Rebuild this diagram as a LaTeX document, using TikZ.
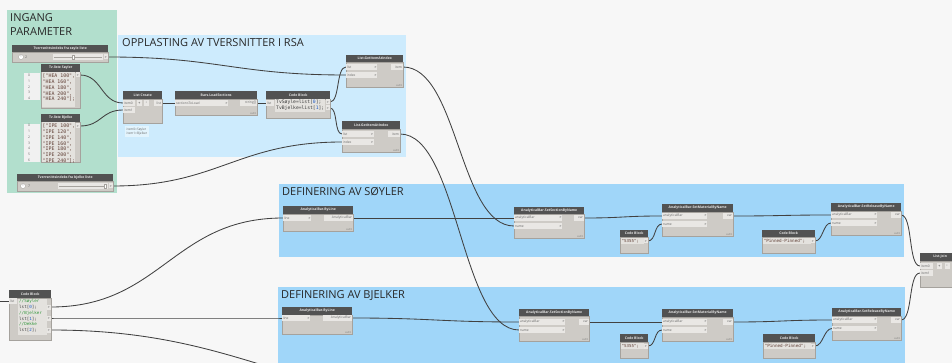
\documentclass[tikz,border=0pt]{standalone}
\usepackage{fontspec}
\setmainfont{Open Sans}
\newfontfamily\cf{DejaVu Sans Mono}
\definecolor{bgc}{RGB}{247,247,247}
\definecolor{grn}{RGB}{178,223,205}
\definecolor{rsa}{RGB}{205,235,253}
\definecolor{defc}{RGB}{160,214,249}
\definecolor{hdrc}{RGB}{82,82,82}
\definecolor{hdrt}{RGB}{228,228,228}
\definecolor{bodyc}{RGB}{206,203,198}
\definecolor{portc}{RGB}{233,231,228}
\definecolor{edgec}{RGB}{165,162,157}
\definecolor{labc}{RGB}{105,105,105}
\definecolor{wirec}{RGB}{65,65,65}
\definecolor{titc}{RGB}{40,40,40}
\definecolor{codebgc}{RGB}{228,226,222}
\definecolor{codec}{RGB}{60,60,60}
\definecolor{strc}{RGB}{95,62,52}
\definecolor{numc}{RGB}{30,90,200}
\definecolor{comc}{RGB}{50,150,60}
\definecolor{idxc}{RGB}{241,241,241}
\pgfdeclarelayer{grp}
\pgfdeclarelayer{wires}
\pgfsetlayers{grp,wires,main}
\begin{document}
\begin{tikzpicture}[x=1pt,y=-1pt,
  hdr/.style={fill=hdrc, text=hdrt, font=\fontsize{3.4}{4}\selectfont\bfseries, inner sep=0pt, anchor=north west, minimum height=7.5pt, minimum width=#1},
  nbody/.style={fill=bodyc, draw=edgec, line width=0.3pt, inner sep=0pt, anchor=north west},
  inport/.style={fill=portc, inner xsep=0.8pt, inner ysep=0pt, minimum height=5.6pt, anchor=west, font=\fontsize{3.3}{4}\selectfont, text=labc, text width=#1, align=left},
  outport/.style={fill=portc, inner xsep=0.8pt, inner ysep=0pt, minimum height=5.6pt, anchor=east, font=\fontsize{3.3}{4}\selectfont, text=labc, text width=#1, align=right},
  cport/.style={fill=portc, inner sep=0pt, minimum width=4pt, minimum height=5pt, anchor=east, font=\fontsize{3.3}{4}\selectfont\bfseries, text=labc},
  pbtn/.style={fill=portc, inner sep=0pt, minimum width=5pt, minimum height=5.6pt, font=\fontsize{3.6}{4}\selectfont\bfseries, text=labc},
  autot/.style={font=\fontsize{2.2}{3}\selectfont, text=labc, anchor=south east, inner sep=0.8pt},
  codebg/.style={fill=codebgc, inner sep=0pt, anchor=north west},
  codet/.style={text=codec, anchor=north west, inner sep=0pt, align=left},
  gtitle/.style={font=\fontsize{11}{14.5}\selectfont, text=titc, anchor=north west, inner sep=0pt, align=left},
  wire/.style={draw=wirec, line width=0.85pt},
  btn/.style={circle, fill=white, draw=edgec, line width=0.3pt, minimum size=5pt, inner sep=0pt, font=\fontsize{4}{4}\selectfont\bfseries, text=labc},
  valt/.style={anchor=west, inner sep=0pt, font=\fontsize{3.6}{4}\selectfont, text=labc},
  track/.style={fill=portc, anchor=west, inner sep=0pt, minimum height=5.5pt},
  thumb/.style={fill=white, draw=edgec, line width=0.3pt, minimum width=2.4pt, minimum height=4.6pt, inner sep=0pt},
  tline/.style={draw=edgec, line width=0.5pt},
  idxbox/.style={fill=idxc, anchor=north west, inner sep=0pt, minimum width=16pt},
  idxt/.style={anchor=north, inner sep=0pt, align=center, font=\fontsize{3.4}{5.7}\selectfont, text=labc},
  notebox/.style={fill=white, fill opacity=0.45, text opacity=1, anchor=north west, inner xsep=1.5pt, inner ysep=1.5pt, align=left, font=\fontsize{3.2}{4.5}\selectfont, text=labc}
]
\useasboundingbox (0,0) rectangle (952,363);
\clip (0,0) rectangle (952,363);
\begin{pgfonlayer}{grp}
\fill[bgc] (0,0) rectangle (952,363);
\fill[grn] (7,10) rectangle (117,193);
\fill[rsa] (118,35) rectangle (406,157);
\fill[defc] (279,184) rectangle (904,257);
\fill[defc] (278,287) rectangle (905,370);
\end{pgfonlayer}

% group titles
\node[gtitle] (t1) at (10,13) {INGANG\\PARAMETER};
\node[gtitle] (t2) at (122,38.5) {OPPLASTING AV TVERSNITTER I RSA};
\node[gtitle] (t3) at (282,187) {DEFINERING AV SØYLER};
\node[gtitle] (t4) at (281,290) {DEFINERING AV BJELKER};

% ---------- INGANG PARAMETER ----------
\node[hdr=96pt] (s1) at (12,44.5) {Tverrsnittsindeks fra søyle liste};
\node[nbody, minimum width=96pt, minimum height=10pt] (s1b) at (s1.south west) {};
\node[btn] (s1m) at (21,57) {-};
\node[valt] (s1v) at (25,57) {2};
\node[track, minimum width=50pt] (s1t) at (53,57) {};
\draw[tline] ([xshift=1pt]s1t.west) -- ([xshift=-1pt]s1t.east);
\node[thumb] (s1h) at (73,57) {};
\node[cport] (s1o) at (108,57) {>};

\node[hdr=39pt] (tvs) at (41,64) {Tv.liste Søyler};
\node[nbody, minimum width=39pt, minimum height=36.5pt] (tvsb) at (tvs.south west) {};
\node[codebg, minimum width=33pt, minimum height=35pt] (tvsa) at (41.6,72.2) {};
\node[idxbox, minimum height=27pt] (tvsi) at (24,73) {};
\node[idxt] (tvsn) at (29,74.2) {0\\1\\2\\3\\4};
\node[codet, text=strc, font=\cf\fontsize{4.9}{5.75}\selectfont] (tvst) at (42.5,74) {["HEA 100",\\"HEA 160",\\"HEA 180",\\"HEA 200",\\"HEA 240"];};
\node[cport] (tvso) at (80,75) {>};

\node[hdr=39pt] (tvb) at (41,114) {Tv.liste Bjelke};
\node[nbody, minimum width=39pt, minimum height=40.5pt] (tvbb) at (tvb.south west) {};
\node[codebg, minimum width=33pt, minimum height=39.5pt] (tvba) at (41.6,122) {};
\node[idxbox, minimum height=38.5pt] (tvbi) at (24,123.5) {};
\node[idxt] (tvbn) at (29,124.3) {0\\1\\2\\3\\4\\5\\6};
\node[codet, text=strc, font=\cf\fontsize{4.9}{5.75}\selectfont] (tvbt) at (42.5,124) {["IPE 100",\\"IPE 120",\\"IPE 140",\\"IPE 160",\\"IPE 180",\\"IPE 200",\\"IPE 240"];};
\node[cport] (tvbo) at (80,126) {>};

\node[hdr=96pt] (s2) at (17,173.5) {Tverrsnittsindeks fra bjelke liste};
\node[nbody, minimum width=96pt, minimum height=9.5pt] (s2b) at (s2.south west) {};
\node[btn] (s2m) at (23,186) {-};
\node[valt] (s2v) at (28,186) {7};
\node[track, minimum width=50pt] (s2t) at (58,186) {};
\draw[tline] ([xshift=1pt]s2t.west) -- ([xshift=-1pt]s2t.east);
\node[thumb] (s2h) at (105,186) {};
\node[cport] (s2o) at (113,186) {>};

% ---------- OPPLASTING ----------
\node[hdr=39pt] (lc) at (123,91) {List Create};
\node[nbody, minimum width=39pt, minimum height=24.5pt] (lcb) at (lc.south west) {};
\node[inport=10.4pt] (lci0) at (123,103) {item0};
\node[inport=10.4pt] (lci1) at (123,110) {item1};
\node[pbtn] (lcp) at (139.5,103) {+};
\node[pbtn] (lcm) at (146.5,103) {-};
\node[outport=6.4pt] (lco) at (162,103) {list};
\node[notebox] (lcn) at (125,126) {item0=Søyler\\item1=Bjelker};

\node[hdr=82pt] (bl) at (175,91) {Bars.LoadSections};
\node[nbody, minimum width=82pt, minimum height=16.5pt] (blb) at (bl.south west) {};
\node[inport=51.4pt] (bli) at (175,103) {sectionsToLoad\hfill{\bfseries >}};
\node[outport=15.4pt] (blo) at (257,103) {string[]};
\node[autot] (bla) at (blb.south east) {AUTO};

\node[hdr=64pt] (cb1) at (266,91) {Code Block};
\node[nbody, minimum width=64pt, minimum height=19.5pt] (cb1b) at (cb1.south west) {};
\node[inport=6.4pt] (cb1i) at (266,103) {list};
\node[codebg, minimum width=50pt, minimum height=13pt] (cb1a) at (275,98.8) {};
\node[codet, font=\cf\fontsize{4.7}{6}\selectfont] (cb1t) at (276,99.8) {TvSøyle=list[\textcolor{numc}{0}];\\TvBjelke=list[\textcolor{numc}{1}];};
\node[cport] (cb1o1) at (330,102) {>};
\node[cport] (cb1o2) at (330,108) {>};

\node[hdr=57pt] (gi1) at (346,54.5) {List.GetItemAtIndex};
\node[nbody, minimum width=57pt, minimum height=25pt] (gi1b) at (gi1.south west) {};
\node[inport=29.4pt] (gi1l) at (346,67) {list\hfill{\bfseries >}};
\node[inport=29.4pt] (gi1x) at (346,75) {index\hfill{\bfseries >}};
\node[outport=10.4pt] (gi1o) at (403,67) {item};
\node[autot] (gi1a) at (gi1b.south east) {AUTO};

\node[hdr=58pt] (gi2) at (342,121) {List.GetItemAtIndex};
\node[nbody, minimum width=58pt, minimum height=23.5pt] (gi2b) at (gi2.south west) {};
\node[inport=30pt] (gi2l) at (342,134) {list\hfill{\bfseries >}};
\node[inport=30pt] (gi2x) at (342,142) {index\hfill{\bfseries >}};
\node[outport=10.4pt] (gi2o) at (400,134) {item};
\node[autot] (gi2a) at (gi2b.south east) {AUTO};

% ---------- SØYLER ----------
\node[hdr=70pt] (bls) at (283,206) {AnalyticalBar.ByLine};
\node[nbody, minimum width=70pt, minimum height=17.5pt] (blsb) at (bls.south west) {};
\node[inport=26.4pt] (blsi) at (283,218) {line\hfill{\bfseries >}};
\node[outport=27.4pt] (blso) at (353,218) {AnalyticalBar};
\node[autot] (blsa) at (blsb.south east) {AUTO};

\node[hdr=70pt] (sss) at (514,206.5) {AnalyticalBar.SetSectionByName};
\node[nbody, minimum width=70pt, minimum height=24pt] (sssb) at (sss.south west) {};
\node[inport=46.4pt] (sssa) at (514,218) {analyticalBar\hfill{\bfseries >}};
\node[inport=46.4pt] (sssn) at (514,226) {name\hfill{\bfseries >}};
\node[outport=8.4pt] (ssso) at (584,218) {var};
\node[autot] (sssx) at (sssb.south east) {AUTO};

\node[hdr=71pt] (sms) at (662,204) {AnalyticalBar.SetMaterialByName};
\node[nbody, minimum width=71pt, minimum height=24.5pt] (smsb) at (sms.south west) {};
\node[inport=43.4pt] (smsa) at (662,216) {analyticalBar\hfill{\bfseries >}};
\node[inport=43.4pt] (smsn) at (662,224) {name\hfill{\bfseries >}};
\node[outport=8.4pt] (smso) at (733,216) {var};
\node[autot] (smsx) at (smsb.south east) {AUTO};

\node[hdr=28pt] (cbs1) at (620,229.5) {Code Block};
\node[nbody, minimum width=28pt, minimum height=16pt] (cbs1b) at (cbs1.south west) {};
\node[codebg, minimum width=23pt, minimum height=6pt] (cbs1a) at (620.6,238) {};
\node[codet, text=strc, font=\cf\fontsize{4.1}{5}\selectfont, anchor=west] (cbs1t) at (621.5,241) {"S355";};
\node[cport] (cbs1o) at (648,241) {>};

\node[hdr=53pt] (cbs2) at (762,229.5) {Code Block};
\node[nbody, minimum width=53pt, minimum height=16pt] (cbs2b) at (cbs2.south west) {};
\node[codebg, minimum width=48pt, minimum height=6pt] (cbs2a) at (762.6,238) {};
\node[codet, text=strc, font=\cf\fontsize{4.3}{5}\selectfont, anchor=west] (cbs2t) at (763.5,241) {"Pinned-Pinned";};
\node[cport] (cbs2o) at (815,241) {>};

\node[hdr=70pt] (srs) at (831,203) {AnalyticalBar.SetReleaseByName};
\node[nbody, minimum width=70pt, minimum height=24.5pt] (srsb) at (srs.south west) {};
\node[inport=44.4pt] (srsa) at (831,215) {analyticalBar\hfill{\bfseries >}};
\node[inport=44.4pt] (srsn) at (831,223) {name\hfill{\bfseries >}};
\node[outport=8.4pt] (srso) at (901,215) {var};
\node[autot] (srsx) at (srsb.south east) {AUTO};

% ---------- BJELKER ----------
\node[hdr=70pt] (blb2) at (282,307) {AnalyticalBar.ByLine};
\node[nbody, minimum width=70pt, minimum height=19.5pt] (blbb) at (blb2.south west) {};
\node[inport=26.4pt] (blbi) at (282,318) {line\hfill{\bfseries >}};
\node[outport=27.4pt] (blbo) at (352,318) {AnalyticalBar};
\node[autot] (blba) at (blbb.south east) {AUTO};

\node[hdr=70pt] (ssb) at (519,308.5) {AnalyticalBar.SetSectionByName};
\node[nbody, minimum width=70pt, minimum height=25pt] (ssbb) at (ssb.south west) {};
\node[inport=44.4pt] (ssba) at (519,322) {analyticalBar\hfill{\bfseries >}};
\node[inport=44.4pt] (ssbn) at (519,330) {name\hfill{\bfseries >}};
\node[outport=8.4pt] (ssbo) at (589,322) {var};
\node[autot] (ssbx) at (ssbb.south east) {AUTO};

\node[hdr=71pt] (smb) at (662,309) {AnalyticalBar.SetMaterialByName};
\node[nbody, minimum width=71pt, minimum height=24.5pt] (smbb) at (smb.south west) {};
\node[inport=43.4pt] (smba) at (662,322) {analyticalBar\hfill{\bfseries >}};
\node[inport=43.4pt] (smbn) at (662,330) {name\hfill{\bfseries >}};
\node[outport=8.4pt] (smbo) at (733,322) {var};
\node[autot] (smbx) at (smbb.south east) {AUTO};

\node[hdr=28pt] (cbb1) at (620,334) {Code Block};
\node[nbody, minimum width=28pt, minimum height=16.5pt] (cbb1b) at (cbb1.south west) {};
\node[codebg, minimum width=23pt, minimum height=6pt] (cbb1a) at (620.6,343) {};
\node[codet, text=strc, font=\cf\fontsize{4.1}{5}\selectfont, anchor=west] (cbb1t) at (621.5,346) {"S355";};
\node[cport] (cbb1o) at (648,346) {>};

\node[hdr=52pt] (cbb2) at (763,334) {Code Block};
\node[nbody, minimum width=52pt, minimum height=16.5pt] (cbb2b) at (cbb2.south west) {};
\node[codebg, minimum width=47pt, minimum height=6pt] (cbb2a) at (763.6,343) {};
\node[codet, text=strc, font=\cf\fontsize{4.3}{5}\selectfont, anchor=west] (cbb2t) at (764.5,346) {"Pinned-Pinned";};
\node[cport] (cbb2o) at (815,346) {>};

\node[hdr=69pt] (srb) at (832,308) {AnalyticalBar.SetReleaseByName};
\node[nbody, minimum width=69pt, minimum height=24.5pt] (srbb) at (srb.south west) {};
\node[inport=43.4pt] (srba) at (832,320) {analyticalBar\hfill{\bfseries >}};
\node[inport=43.4pt] (srbn) at (832,328.5) {name\hfill{\bfseries >}};
\node[outport=8.4pt] (srbo) at (901,320) {var};
\node[autot] (srbx) at (srbb.south east) {AUTO};

% ---------- List.Join ----------
\node[hdr=40pt] (lj) at (920,253) {List.Join};
\node[nbody, minimum width=40pt, minimum height=26.5pt] (ljb) at (lj.south west) {};
\node[inport=11.4pt] (lji0) at (920,266) {item0};
\node[inport=11.4pt] (lji1) at (920,273) {item1};
\node[pbtn] (ljp) at (939.5,266) {+};
\node[pbtn] (ljm) at (947,266) {-};

% ---------- left Code Block ----------
\node[hdr=42pt] (cbl) at (9,290) {Code Block};
\node[nbody, minimum width=42pt, minimum height=42.5pt] (cblb) at (cbl.south west) {};
\node[inport=6.4pt] (cbli) at (9,301) {list};
\node[codebg, minimum width=29pt, minimum height=36pt] (cbla) at (17.5,298.3) {};
\node[codet, font=\cf\fontsize{4.2}{5.8}\selectfont] (cblt) at (19,299.3) {\textcolor{comc}{//Søyler}\\lst[\textcolor{numc}{0}];\\\textcolor{comc}{//Bjelker}\\lst[\textcolor{numc}{1}];\\\textcolor{comc}{//Dekke}\\lst[\textcolor{numc}{2}];};
\node[cport] (cblo1) at (51,307) {>};
\node[cport] (cblo2) at (51,318) {>};
\node[cport] (cblo3) at (51,330) {>};

\coordinate (lin) at (0,301);
\coordinate (off) at (490,405);

% ---------- wires ----------
\begin{pgfonlayer}{wires}
\draw[wire] (lin) -- (cbli.west);
\draw[wire] (s1o.east) .. controls +(110,0) and +(-110,0) .. (gi1x.west);
\draw[wire] (tvso.east) .. controls +(22,0) and +(-22,0) .. (lci0.west);
\draw[wire] (tvbo.east) .. controls +(22,0) and +(-22,0) .. (lci1.west);
\draw[wire] (s2o.east) .. controls +(105,0) and +(-105,0) .. (gi2x.west);
\draw[wire] (lco.east) .. controls +(6,0) and +(-6,0) .. (bli.west);
\draw[wire] (blo.east) .. controls +(5,0) and +(-5,0) .. (cb1i.west);
\draw[wire] (cb1o1.east) .. controls +(10,0) and +(-10,0) .. (gi1l.west);
\draw[wire] (cb1o2.east) .. controls +(8,0) and +(-8,0) .. (gi2l.west);
\draw[wire] (gi1o.east) .. controls +(55,0) and +(-55,0) .. (sssn.west);
\draw[wire] (gi2o.east) .. controls +(58,0) and +(-58,0) .. (ssbn.west);
\draw[wire] (cblo1.east) .. controls +(110,0) and +(-110,0) .. (blsi.west);
\draw[wire] (cblo2.east) .. controls +(100,0) and +(-100,0) .. (blbi.west);
\draw[wire] (cblo3.east) .. controls +(195,0) and +(-195,0) .. (off);
\draw[wire] (blso.east) .. controls +(80,0) and +(-80,0) .. (sssa.west);
\draw[wire] (ssso.east) .. controls +(40,0) and +(-40,0) .. (smsa.west);
\draw[wire] (cbs1o.east) .. controls +(8,0) and +(-8,0) .. (smsn.west);
\draw[wire] (smso.east) .. controls +(50,0) and +(-50,0) .. (srsa.west);
\draw[wire] (cbs2o.east) .. controls +(8,0) and +(-8,0) .. (srsn.west);
\draw[wire] (blbo.east) .. controls +(80,0) and +(-80,0) .. (ssba.west);
\draw[wire] (ssbo.east) .. controls +(37,0) and +(-37,0) .. (smba.west);
\draw[wire] (cbb1o.east) .. controls +(8,0) and +(-8,0) .. (smbn.west);
\draw[wire] (smbo.east) .. controls +(50,0) and +(-50,0) .. (srba.west);
\draw[wire] (cbb2o.east) .. controls +(8,0) and +(-8,0) .. (srbn.west);
\draw[wire] (srso.east) .. controls +(12,0) and +(-12,0) .. (lji0.west);
\draw[wire] (srbo.east) .. controls +(12,0) and +(-12,0) .. (lji1.west);
\end{pgfonlayer}
\end{tikzpicture}
\end{document}
